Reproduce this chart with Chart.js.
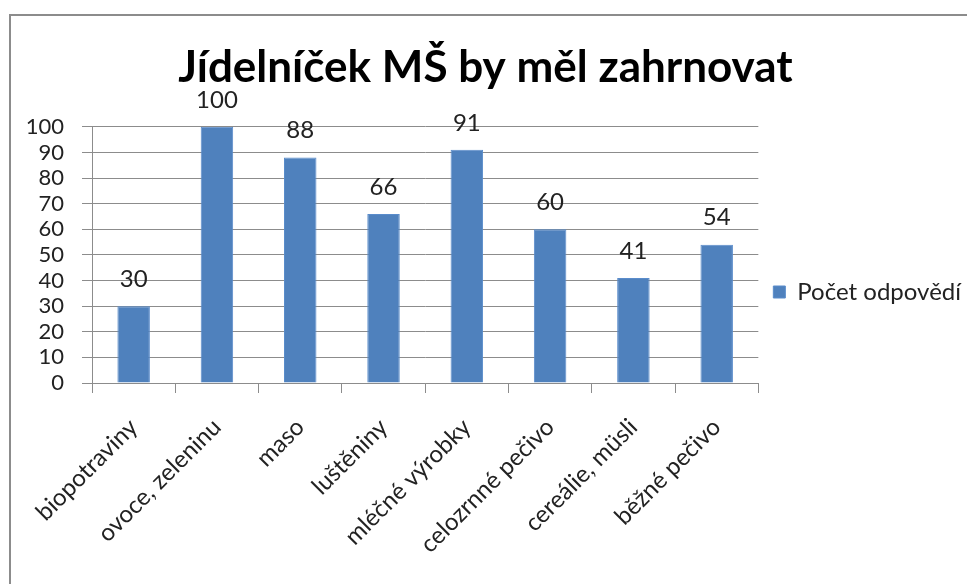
<!DOCTYPE html>
<html>
<head>
<meta charset="utf-8">
<script src="https://cdn.jsdelivr.net/npm/chart.js@4"></script>
<style>
  body { margin: 0; background: #fff; }
  #wrap { position: relative; width: 967px; height: 584px; }
  #frame { position: absolute; left: 9px; top: 14px; width: 980px; height: 600px; border: 2px solid #8c8c8c; box-sizing: border-box; }
  canvas { position: absolute; left: 0; top: 0; }
</style>
</head>
<body>
<div id="wrap">
  <div id="frame"></div>
  <canvas id="chart" width="967" height="584"></canvas>
</div>
<script>
const categories = ["biopotraviny", "ovoce, zeleninu", "maso", "luštěniny", "mléčné výrobky", "celozrnné pečivo", "cereálie, müsli", "běžné pečivo"];
const answers = [30, 100, 88, 66, 91, 60, 41, 54];
const seriesName = "Počet odpovědí";
const chartTitle = "Jídelníček MŠ by měl zahrnovat";

const FONT = "Lato, 'Open Sans', sans-serif";

// value labels above bars
const valueLabels = {
  id: 'valueLabels',
  afterDatasetsDraw(chart) {
    const ctx = chart.ctx;
    const meta = chart.getDatasetMeta(0);
    ctx.save();
    ctx.font = "24px " + FONT;
    ctx.fillStyle = "#222";
    ctx.textAlign = "center";
    ctx.textBaseline = "middle";
    meta.data.forEach((bar, i) => {
      ctx.fillText(answers[i], bar.x, bar.y - 27);
    });
    ctx.restore();
  }
};

Chart.defaults.font.family = FONT;
Chart.defaults.color = "#222";

new Chart(document.getElementById('chart'), {
  type: 'bar',
  data: {
    labels: categories,
    datasets: [{
      label: seriesName,
      data: answers,
      backgroundColor: "#4f81bd",
      borderColor: "#5a8ccb",
      borderWidth: 1,
      categoryPercentage: 1,
      barPercentage: 0.39
    }]
  },
  options: {
    responsive: false,
    animation: false,
    layout: { padding: { left: 0, right: -4, top: 0, bottom: 0 } },
    plugins: {
      title: {
        display: true,
        text: chartTitle,
        font: { size: 44, weight: 'bold' },
        color: "#000",
        padding: { top: 41, bottom: 33 }
      },
      legend: {
        position: 'right',
        labels: {
          boxWidth: 12,
          boxHeight: 12,
          font: { size: 24 },
          color: "#222",
          padding: 15
        }
      },
      tooltip: { enabled: false }
    },
    scales: {
      x: {
        afterFit: s => { s.height = 201; },
        grid: { display: true, drawOnChartArea: false, tickLength: 10, color: "#8c8c8c" },
        border: { color: "#8c8c8c" },
        ticks: { autoSkip: false, minRotation: 45, maxRotation: 45, font: { size: 24 }, padding: 20 }
      },
      y: {
        min: 0,
        max: 100,
        afterFit: s => { s.width = 92; },
        grid: { color: "#8c8c8c", tickLength: 10 },
        border: { color: "#8c8c8c" },
        ticks: { stepSize: 10, autoSkip: false, font: { size: 22 }, padding: 18 }
      }
    }
  },
  plugins: [valueLabels]
});
</script>
</body>
</html>
